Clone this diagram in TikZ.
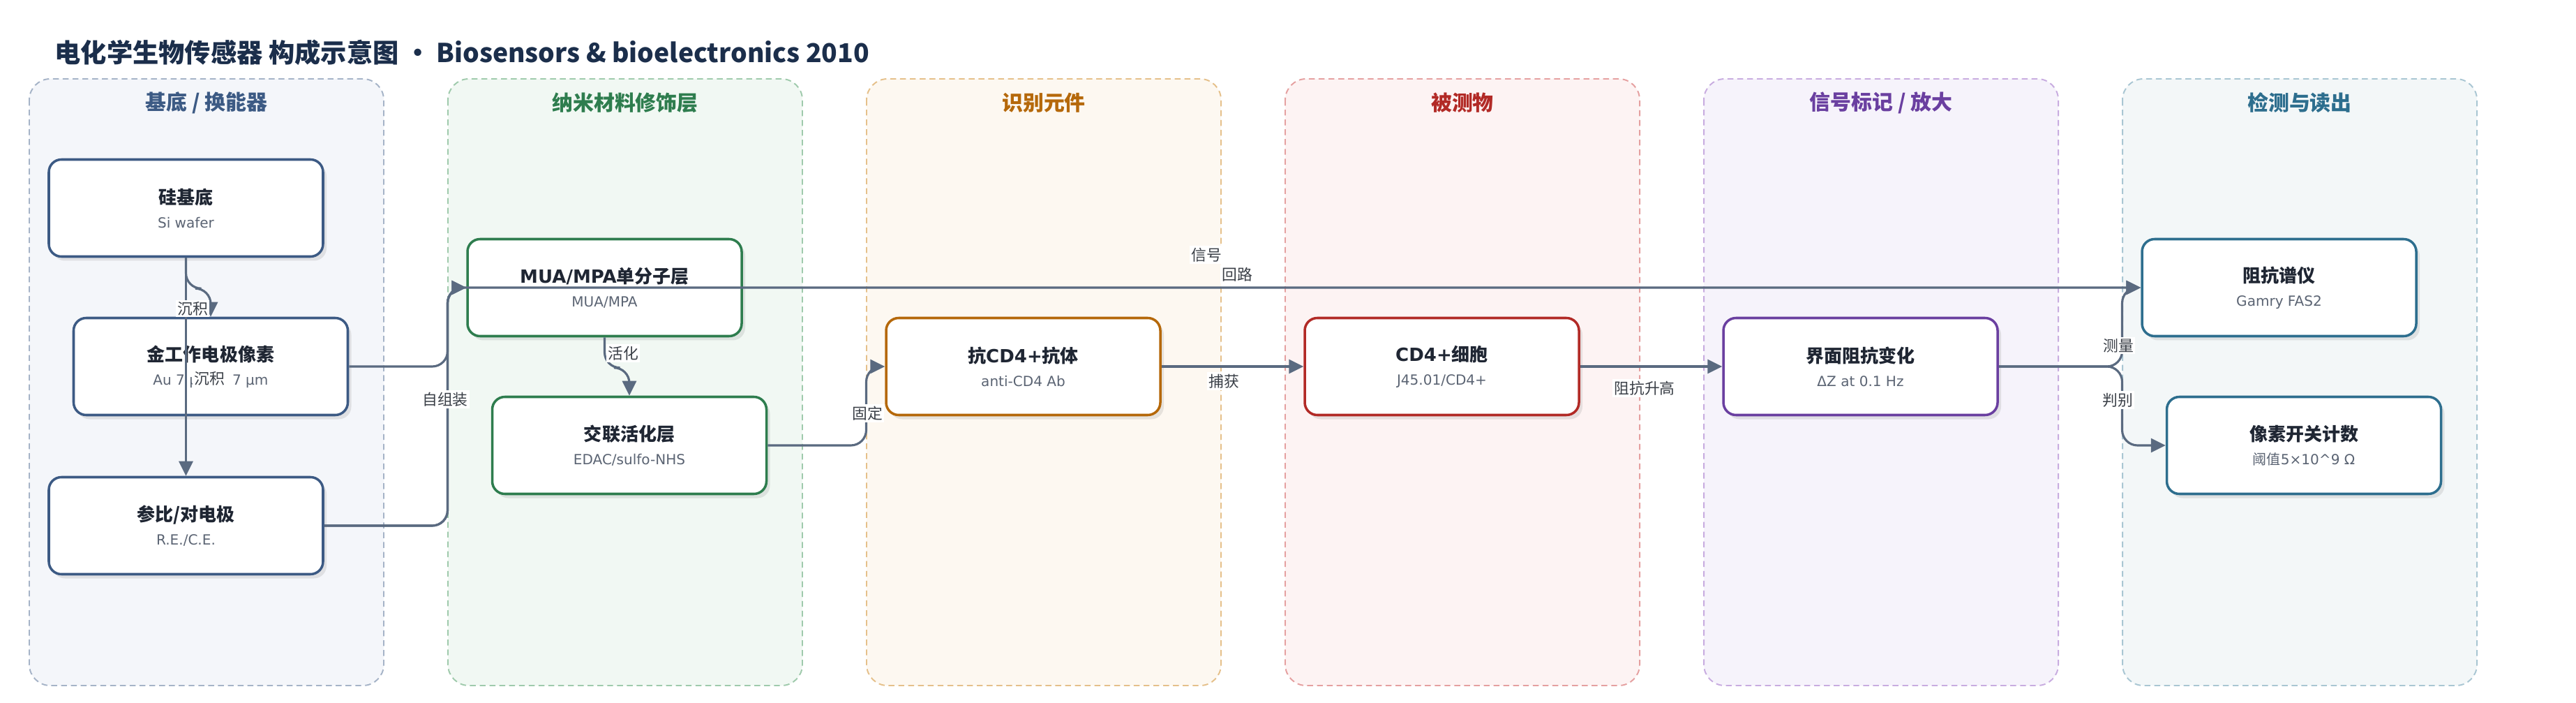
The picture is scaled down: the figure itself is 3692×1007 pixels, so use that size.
\documentclass[tikz,border=0pt]{standalone}
\usepackage{fontspec}
\setmainfont{Noto Sans CJK SC}
\newfontfamily\dv{DejaVu Sans}
\usetikzlibrary{arrows.meta,shadows}

\definecolor{ink}{HTML}{1B2E4B}
\definecolor{boxink}{HTML}{1F2633}
\definecolor{note}{HTML}{5B6473}
\definecolor{edge}{HTML}{5A6A80}
\definecolor{tagc}{HTML}{3A3F47}
\definecolor{subc}{HTML}{3C5A84}\definecolor{subf}{HTML}{F4F6FA}\definecolor{subd}{HTML}{A5B3C7}
\definecolor{nanoc}{HTML}{2E7D4E}\definecolor{nanof}{HTML}{F1F8F3}\definecolor{nanod}{HTML}{9FCAAC}
\definecolor{recc}{HTML}{B5680A}\definecolor{recf}{HTML}{FDF8F1}\definecolor{recd}{HTML}{E5C08A}
\definecolor{anac}{HTML}{B22A26}\definecolor{anaf}{HTML}{FDF3F3}\definecolor{anad}{HTML}{E5A0A0}
\definecolor{sigc}{HTML}{6A3FA0}\definecolor{sigf}{HTML}{F6F3FB}\definecolor{sigd}{HTML}{C8ACE0}
\definecolor{detc}{HTML}{2D6E8E}\definecolor{detf}{HTML}{F3F7F8}\definecolor{detd}{HTML}{A9C6D3}

\newcommand\boxtitle[1]{{\bfseries\color{boxink}#1}}
\newcommand\boxnote[1]{{\fontsize{5.7pt}{9.7pt}\selectfont\dv\color{note}#1}}

\tikzset{
  panel/.style 2 args={fill=#1, draw=#2, dash pattern=on 2.4pt off 1.6pt, line width=0.55pt, rounded corners=3mm},
  head/.style={font=\fontsize{8.5pt}{9pt}\selectfont\bfseries, text=#1},
  unit/.style={draw=#1, fill=white, line width=1pt, rounded corners=1.8mm,
    minimum width=39.3mm, minimum height=13.9mm, align=center,
    font=\fontsize{7.4pt}{9.7pt}\selectfont,
    drop shadow={opacity=0.18, shadow xshift=0.5mm, shadow yshift=-0.6mm}},
  link/.style={draw=edge, line width=0.9pt, rounded corners=2.2mm, -{Triangle[length=2.1mm,width=2mm]}},
  tag/.style={fill=white, text=tagc, inner sep=0.25mm, font=\fontsize{6.2pt}{7pt}\selectfont}
}

\begin{document}
\begin{tikzpicture}[x=0.1mm, y=-0.1mm]
\useasboundingbox (0,0) rectangle (3692,1007);
\fill[white] (0,0) rectangle (3692,1007);

\node[anchor=west, inner sep=0pt, text=ink, font=\fontsize{10.6pt}{12pt}\selectfont\bfseries] (title) at (78,75)
  {电化学生物传感器 构成示意图 • Biosensors \& bioelectronics 2010};

\draw[panel={subf}{subd}] (42,113) rectangle (550,982);
\draw[panel={nanof}{nanod}] (642,113) rectangle (1150,982);
\draw[panel={recf}{recd}] (1242,113) rectangle (1750,982);
\draw[panel={anaf}{anad}] (1842,113) rectangle (2350,982);
\draw[panel={sigf}{sigd}] (2442,113) rectangle (2950,982);
\draw[panel={detf}{detd}] (3042,113) rectangle (3550,982);

\node[head=subc] (hsub) at (296,147) {基底 / 换能器};
\node[head=nanoc] (hnano) at (896,147) {纳米材料修饰层};
\node[head=recc] (hrec) at (1496,147) {识别元件};
\node[head=anac] (hana) at (2096,147) {被测物};
\node[head=sigc] (hsig) at (2696,147) {信号标记 / 放大};
\node[head=detc] (hdet) at (3296,147) {检测与读出};

\node[unit=subc] (si) at (266.5,298) {\boxtitle{硅基底}\\\boxnote{Si wafer}};
\node[unit=subc] (au) at (302,525) {\boxtitle{金工作电极像素}\\\boxnote{Au 7 μm × 7 μm}};
\node[unit=subc] (ref) at (266.5,753) {\boxtitle{参比/对电极}\\\boxnote{R.E./C.E.}};
\node[unit=nanoc] (mua) at (866.5,412) {\boxtitle{{\dv MUA/MPA}单分子层}\\\boxnote{MUA/MPA}};
\node[unit=nanoc] (edc) at (902,638) {\boxtitle{交联活化层}\\\boxnote{EDAC/sulfo-NHS}};
\node[unit=recc] (ab) at (1466.5,525) {\boxtitle{抗{\dv CD4+}抗体}\\\boxnote{anti-CD4 Ab}};
\node[unit=anac] (cell) at (2066.5,525) {\boxtitle{{\dv CD4+}细胞}\\\boxnote{J45.01/CD4+}};
\node[unit=sigc] (dz) at (2666.5,525) {\boxtitle{界面阻抗变化}\\\boxnote{ΔZ at 0.1 Hz}};
\node[unit=detc] (eis) at (3266.5,412) {\boxtitle{阻抗谱仪}\\\boxnote{Gamry FAS2}};
\node[unit=detc] (pix) at (3302,638) {\boxtitle{像素开关计数}\\\boxnote{{\rmfamily 阈值}5×10\textasciicircum 9 Ω}};

\coordinate (c1) at (641.5,412);
\coordinate (c2) at (1241.5,525);
\coordinate (c3) at (3041.5,412);
\coordinate (c4) at (3041.5,638);

\draw[link] (si.south) -- ++(0,44) -| (au.north);
\draw[link] (si.south) -- (ref.north);
\draw[link] (au.east) -| (c1) -- (mua.west);
\draw[link] (ref.east) -| (c1) -- (mua.west);
\draw[link] (ref.east) -| (c1) -- (eis.west);
\draw[link] (mua.south) -- ++(0,43.5) -| (edc.north);
\draw[link] (edc.east) -| (c2) -- (ab.west);
\draw[link] (ab) -- (cell);
\draw[link] (cell) -- (dz);
\draw[link] (dz.east) -| (c3) -- (eis.west);
\draw[link] (dz.east) -| (c4) -- (pix.west);

\node[tag] (t1) at (276,442) {沉积};
\node[tag] (t2) at (300,542) {沉积};
\node[tag] (t3) at (638,572) {自组装};
\node[tag] (t4) at (1729,365) {信号};
\node[tag] (t5) at (1773,393) {回路};
\node[tag] (t6) at (893,506) {活化};
\node[tag] (t7) at (1243,592) {固定};
\node[tag] (t8) at (1754,546) {捕获};
\node[tag] (t9) at (2357,556) {阻抗升高};
\node[tag] (t10) at (3036,495) {测量};
\node[tag] (t11) at (3035,573) {判别};
\end{tikzpicture}
\end{document}
